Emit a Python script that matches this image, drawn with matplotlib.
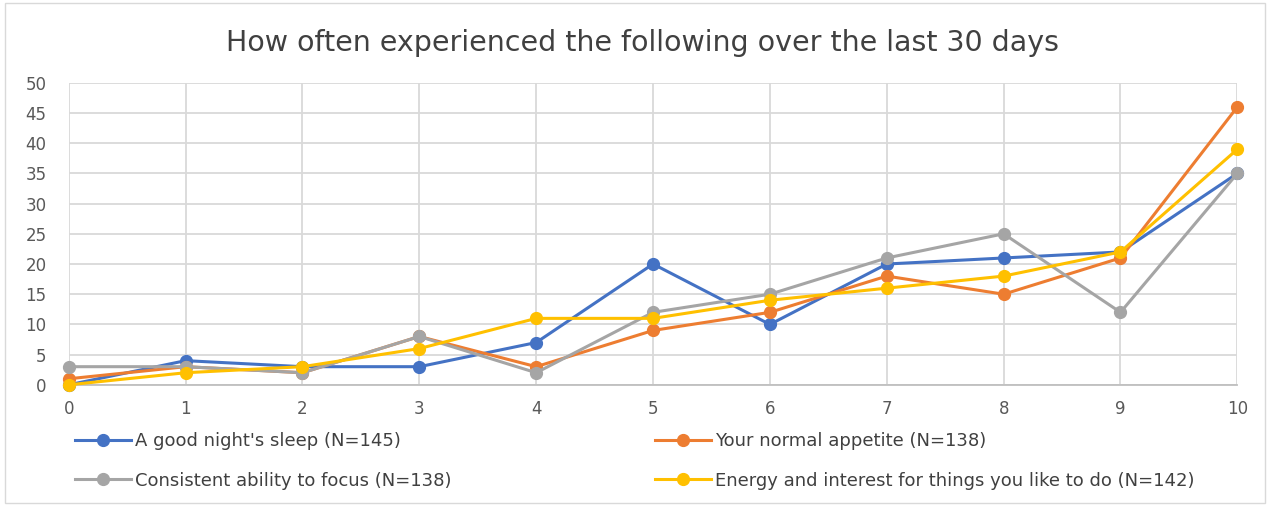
import matplotlib
matplotlib.use("Agg")
import matplotlib.pyplot as plt
from matplotlib.patches import Rectangle

x_vals = [0, 1, 2, 3, 4, 5, 6, 7, 8, 9, 10]
sleep = [0, 4, 3, 3, 7, 20, 10, 20, 21, 22, 35]
appetite = [1, 3, 2, 8, 3, 9, 12, 18, 15, 21, 46]
focus = [3, 3, 2, 8, 2, 12, 15, 21, 25, 12, 35]
energy = [0, 2, 3, 6, 11, 11, 14, 16, 18, 22, 39]
labels = ["A good night's sleep (N=145)", "Your normal appetite (N=138)",
          "Consistent ability to focus (N=138)",
          "Energy and interest for things you like to do (N=142)"]
colors = ["#4472C4", "#ED7D31", "#A5A5A5", "#FFC000"]
y_ticks = [0, 5, 10, 15, 20, 25, 30, 35, 40, 45, 50]

plt.rcParams['font.family'] = ['DejaVu Sans']

fig = plt.figure(figsize=(12.73, 5.05), dpi=100)
ax = fig.add_axes([0.054, 0.238, 0.918, 0.598])

series = [sleep, appetite, focus, energy]
lines = []
for vals, lab, col in zip(series, labels, colors):
    ln, = ax.plot(x_vals, vals, color=col, lw=2.2, marker='o', ms=8.5,
                  label=lab, clip_on=False, zorder=3)
    lines.append(ln)

ax.set_xlim(0, 10)
ax.set_ylim(0, 50)
ax.set_xticks(x_vals)
ax.set_yticks(y_ticks)
ax.grid(True, color='#D9D9D9', lw=1.3)
ax.set_axisbelow(True)
for s in ['top', 'right', 'left']:
    ax.spines[s].set_visible(False)
ax.spines['bottom'].set_color('#BFBFBF')
ax.spines['bottom'].set_linewidth(1.3)
ax.tick_params(length=0, labelsize=12, colors='#595959')
ax.tick_params(axis='x', pad=11)
ax.tick_params(axis='y', pad=16)

fig.text(0.505, 0.915, "How often experienced the following over the last 30 days",
         ha='center', va='center', fontsize=20.5, color='#404040')

common = dict(frameon=False, fontsize=13, labelcolor='#404040',
              handlelength=3.1, handletextpad=0.2, labelspacing=1.2,
              borderpad=0, borderaxespad=0, loc='upper left')
leg1 = fig.legend([lines[0], lines[2]], [labels[0], labels[2]],
                  bbox_to_anchor=(75 / 1273, 1 - 432 / 505), **common)
leg2 = fig.legend([lines[1], lines[3]], [labels[1], labels[3]],
                  bbox_to_anchor=(655 / 1273, 1 - 432 / 505), **common)

fig.patches.append(Rectangle((0.004, 0.004), 0.99, 0.99, transform=fig.transFigure,
                             fill=False, edgecolor='#D9D9D9', lw=1))
fig.savefig("out.png", dpi=100)
